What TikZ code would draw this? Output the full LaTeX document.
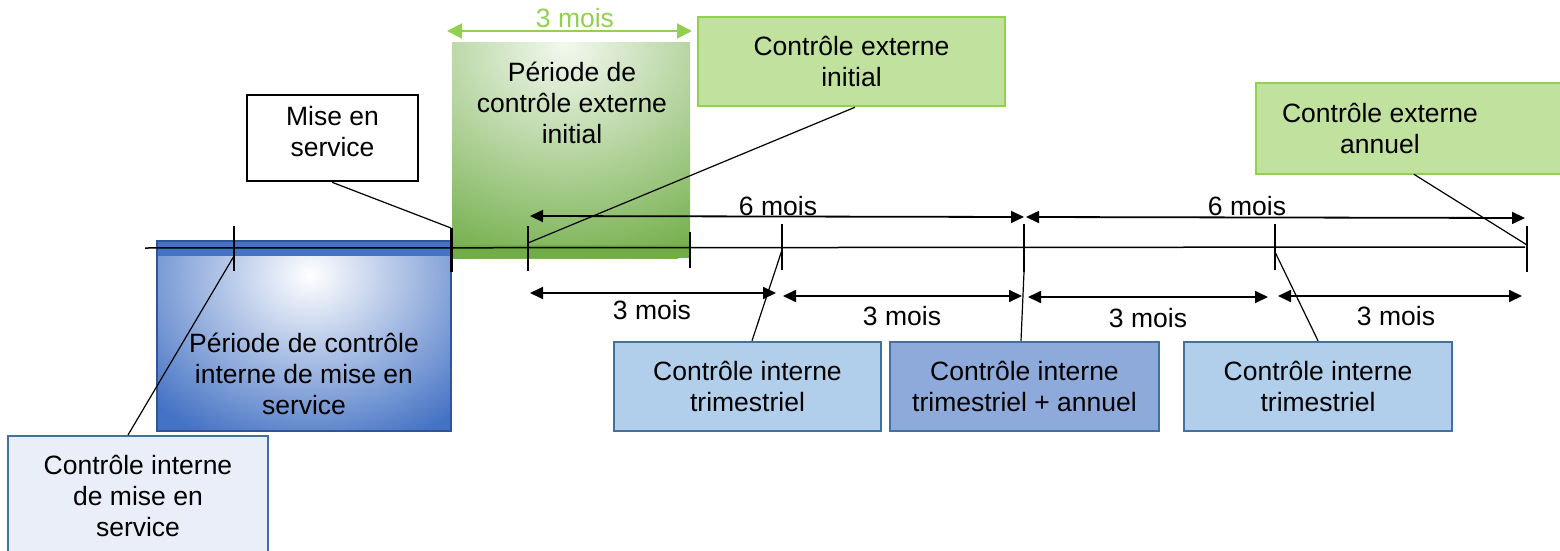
\documentclass[tikz,border=0pt]{standalone}
\usepackage{fontspec}
\setmainfont{Liberation Sans}
\usetikzlibrary{arrows.meta}
\definecolor{bluedark}{HTML}{4472C4}
\definecolor{blueborder}{HTML}{2F5597}
\definecolor{boxborder}{HTML}{41719C}
\definecolor{trimfill}{HTML}{B1CFEB}
\definecolor{annfill}{HTML}{8EAADB}
\definecolor{cimsfill}{HTML}{E9EEF8}
\definecolor{greenfill}{HTML}{C0E29E}
\definecolor{greenborder}{HTML}{92D050}
\definecolor{greendark}{HTML}{70AD47}
\definecolor{greenlight}{HTML}{F3F8EF}
\begin{document}
\begin{tikzpicture}[x=1pt,y=-1pt,
  font=\fontsize{26.5}{31}\selectfont,
  box/.style={draw, line width=2.5pt, inner sep=0pt, align=center},
  txt/.style={inner sep=0pt, align=center},
  tick/.style={line width=2.5pt},
  conn/.style={line width=1.2pt},
  dim/.style={line width=1.8pt, {Triangle[length=13pt,width=12pt]}-{Triangle[length=13pt,width=12pt]}},
  gdim/.style={line width=2pt, draw=greenborder, {Triangle[length=15pt,width=15pt]}-{Triangle[length=15pt,width=15pt]}}
]
\useasboundingbox (0,0) rectangle (1560,551);

% --- shaded periods ---
\begin{scope}
  \clip (157,241) rectangle (451,431);
  \fill[bluedark] (157,241) rectangle (451,431);
  \shade[inner color=white, outer color=bluedark] (310,275) ellipse (215 and 185);
  \fill[bluedark] (157,241) rectangle (451,256);
\end{scope}
\node[box, draw=blueborder, line width=2pt, minimum width=294pt, minimum height=190pt] (bp) at (304,336) {};
\node[txt] (bpt) at (304,374) {Période de contrôle\\interne de mise en\\service};

\begin{scope}
  \clip (452,43) rectangle (690,258);
  \fill[greendark] (452,43) rectangle (690,258);
  \shade[inner color=greenlight, outer color=greendark] (565,45) ellipse (270 and 235);
  \fill[greendark] (452,245) rectangle (690,258);
\end{scope}
\node[inner sep=0pt, minimum width=238pt, minimum height=215pt] (gp) at (571,150.5) {};
\node[txt] (gpt) at (572,103) {Période de\\contrôle externe\\initial};

% --- label boxes ---
\node[box, draw=black, fill=white, minimum width=171pt, minimum height=86pt] (mes) at (332.5,138) {};
\node[txt] (mest) at (332.5,132) {Mise en\\service};
\node[box, draw=greenborder, fill=greenfill, minimum width=307pt, minimum height=89pt] (ei) at (851.5,61.5) {Contrôle externe\\initial};
\node[inner sep=0pt, fill=greenfill, minimum width=330pt, minimum height=91pt] (ea) at (1421,128.5) {};
\draw[greenborder, line width=2.5pt] (ea.north east) -- (ea.north west) -- (ea.south west) -- (ea.south east);
\node[txt] (eat) at (1380,128) {Contrôle externe\\annuel};
\node[box, draw=boxborder, fill=trimfill, minimum width=267pt, minimum height=89pt] (tr1) at (747.5,386.5) {Contrôle interne\\trimestriel};
\node[box, draw=boxborder, fill=annfill, minimum width=269pt, minimum height=89pt] (tra) at (1024.5,386.5) {Contrôle interne\\trimestriel + annuel};
\node[box, draw=boxborder, fill=trimfill, minimum width=268pt, minimum height=89pt] (tr3) at (1318,386.5) {Contrôle interne\\trimestriel};
\node[box, draw=boxborder, line width=2pt, fill=cimsfill, minimum width=260pt, minimum height=124pt] (cims) at (138,498) {};
\node[txt] (cimst) at (138,496) {Contrôle interne\\de mise en\\service};

% --- timeline ---
\coordinate (tl0) at (145,248);
\coordinate (tl1) at (1525,247);
\draw[line width=1.5pt] (tl0) -- (tl1);
\coordinate (t1) at (234,248);
\coordinate (t2) at (451,248);
\coordinate (t3) at (528,248);
\coordinate (t4) at (690,248);
\coordinate (t5) at (782,248);
\coordinate (t6) at (1024,248);
\coordinate (t7) at (1275,248);
\coordinate (t8) at (1527,248);
\draw[tick] ([yshift=22pt]t1) -- ([yshift=-23pt]t1);
\draw[tick, line width=3pt] ([yshift=20pt]t2) -- ([yshift=-24pt]t2);
\draw[tick] ([yshift=22pt]t3) -- ([yshift=-23pt]t3);
\draw[tick, line width=1.5pt] ([yshift=16pt]t4) -- ([yshift=-20pt]t4);
\draw[tick] ([yshift=24pt]t5) -- ([yshift=-22pt]t5);
\draw[tick] ([yshift=24pt]t6) -- ([yshift=-24pt]t6);
\draw[tick] ([yshift=24pt]t7) -- ([yshift=-22pt]t7);
\draw[tick] ([yshift=22pt]t8) -- ([yshift=-24pt]t8);

% --- connectors ---
\draw[conn] ([xshift=-0.5pt]mes.south) -- ([yshift=20pt]t2);
\draw[conn] ([xshift=3.5pt]ei.south) -- ([yshift=5pt]t3);
\draw[conn] ([xshift=158pt]ea.south west) -- ([yshift=3pt]t8);
\draw[conn] ([xshift=-10pt]cims.north) -- ([yshift=-8pt]t1);
\draw[conn] ([xshift=4.5pt]tr1.north) -- ([yshift=-2pt]t5);
\draw[conn] ([xshift=-3.5pt]tra.north) -- ([yshift=-24pt]t6);
\draw[conn] (tr3.north) -- ([yshift=-4pt]t7);

% --- dimension arrows ---
\coordinate (g0) at (447,31);
\coordinate (g1) at (692,31);
\draw[gdim] (g0) -- (g1);
\node[txt, text=greenborder] (gl) at (575,18) {3 mois};

\coordinate (s0) at (530,216);
\coordinate (s1) at (1024,217);
\coordinate (s2) at (1026,217);
\coordinate (s3) at (1525,218);
\draw[dim] (s0) -- (s1);
\draw[dim] (s2) -- (s3);
\node[txt] (sl1) at (778,206) {6 mois};
\node[txt] (sl2) at (1247,206) {6 mois};

\coordinate (a0) at (530,293);
\coordinate (a1) at (776,293);
\coordinate (a2) at (783,296);
\coordinate (a3) at (1022,296);
\coordinate (a4) at (1028,297);
\coordinate (a5) at (1268,297);
\coordinate (a6) at (1278,296);
\coordinate (a7) at (1522,296);
\draw[dim] (a0) -- (a1);
\draw[dim] (a2) -- (a3);
\draw[dim] (a4) -- (a5);
\draw[dim] (a6) -- (a7);
\node[txt] (al1) at (652,310) {3 mois};
\node[txt] (al2) at (902,316) {3 mois};
\node[txt] (al3) at (1148,318) {3 mois};
\node[txt] (al4) at (1396,316) {3 mois};
\end{tikzpicture}
\end{document}
